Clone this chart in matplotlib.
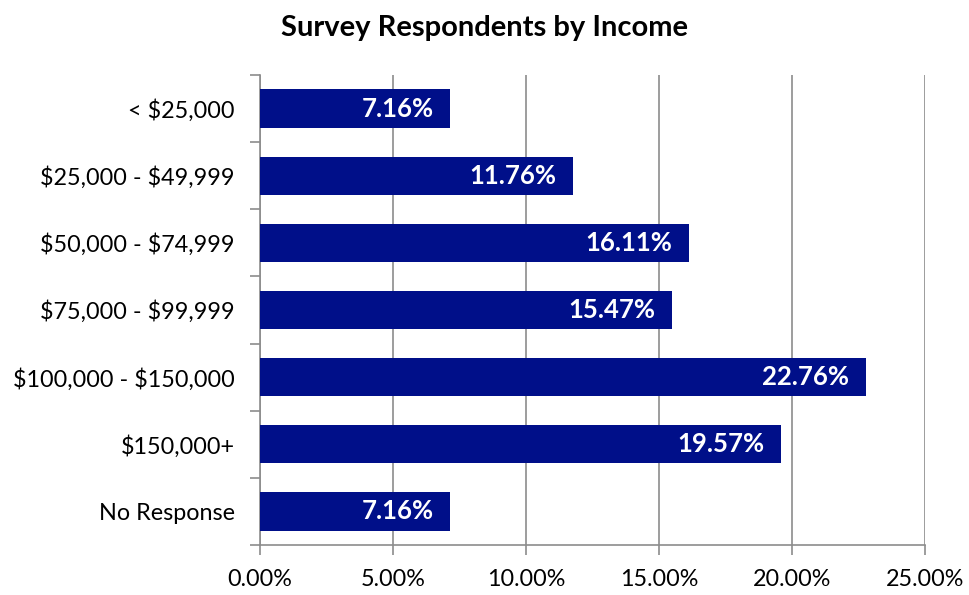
import numpy as np
import matplotlib.pyplot as plt
from matplotlib.ticker import FuncFormatter

# income brackets and share of respondents (%)
brackets = ['< $25,000', '$25,000 - $49,999', '$50,000 - $74,999', '$75,000 - $99,999',
            '$100,000 - $150,000', '$150,000+', 'No Response']
shares = np.array([7.16, 11.76, 16.11, 15.47, 22.76, 19.57, 7.16])

plt.rcParams['font.family'] = ['Lato', 'DejaVu Sans']
plt.rcParams['text.parse_math'] = False

fig = plt.figure(figsize=(9.69, 5.95), dpi=100)
ax = fig.add_axes([0.268, 0.084, 0.687, 0.79])

y = np.arange(len(brackets))
bars = ax.barh(y, shares, height=0.57, color='#000F89', zorder=3)

# value labels inside the bar ends
for yi, v in zip(y, shares):
    ax.annotate(f'{v:.2f}%', xy=(v, yi), xytext=(-12, 0), textcoords='offset points',
                ha='right', va='center', color='white', fontsize=18.5, fontweight='bold', zorder=4)

ax.set_ylim(len(brackets) - 0.5, -0.5)
ax.set_xlim(0, 25)
ax.set_xticks(np.arange(0, 26, 5))
ax.xaxis.set_major_formatter(FuncFormatter(lambda v, p: f'{v:.2f}%'))
ax.set_yticks(y)
ax.set_yticklabels(brackets)
ax.set_yticks(np.arange(-0.5, len(brackets), 1), minor=True)

ax.grid(axis='x', color='#8c8c8c', linewidth=1.2, zorder=0)
for s in ['top', 'right']:
    ax.spines[s].set_visible(False)
for s in ['left', 'bottom']:
    ax.spines[s].set_color('#8c8c8c')
    ax.spines[s].set_linewidth(1.2)

ax.tick_params(axis='y', which='major', length=0, pad=18, labelsize=16.8)
ax.tick_params(axis='y', which='minor', length=7, width=1.2, color='#8c8c8c')
ax.tick_params(axis='x', length=7, width=1.2, color='#8c8c8c', pad=10, labelsize=16.8)

fig.suptitle('Survey Respondents by Income', y=0.975, fontsize=21, fontweight='bold')

fig.savefig('out.png', dpi=100)
